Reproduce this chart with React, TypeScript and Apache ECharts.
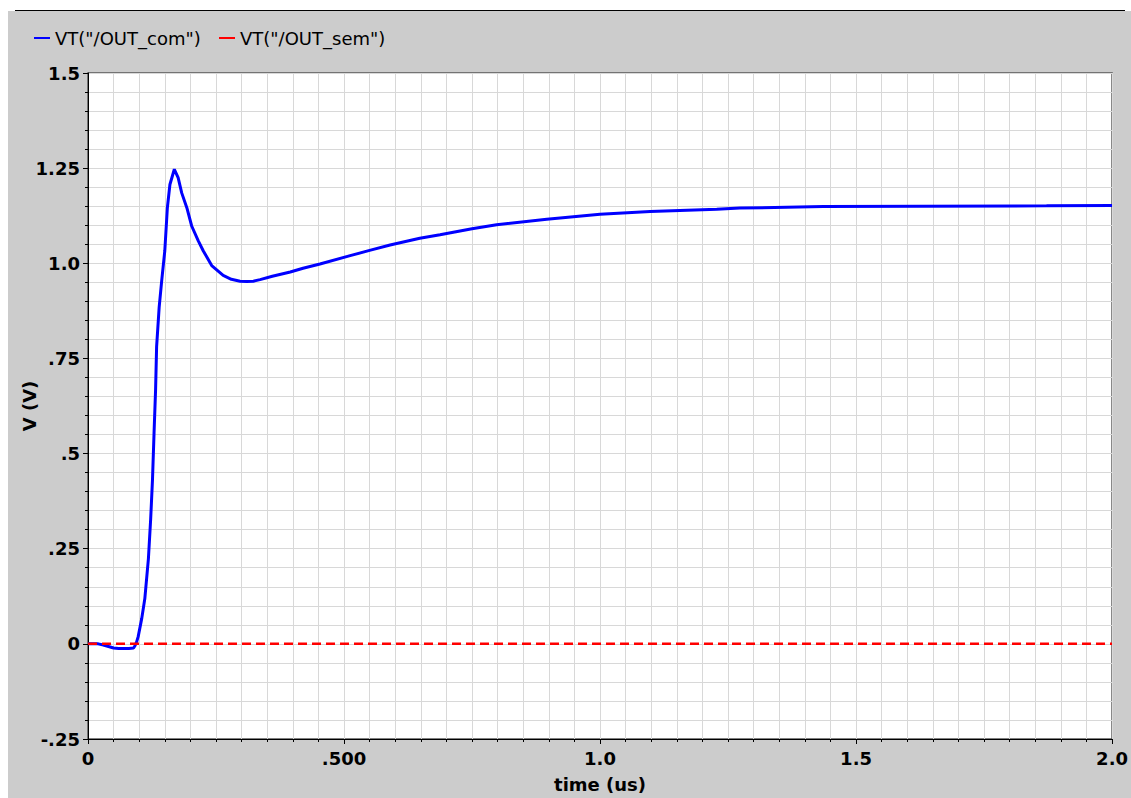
import React, { useEffect, useRef } from "react";
import * as echarts from "echarts";

const seriesNames = ['VT("/OUT_com")', 'VT("/OUT_sem")'];

// time (us)
const comTime = [
  0, 0.02, 0.03, 0.04, 0.05, 0.06, 0.07, 0.08, 0.089, 0.0918, 0.095, 0.098,
  0.105, 0.111, 0.118, 0.1224, 0.126, 0.129, 0.132, 0.134, 0.139, 0.144, 0.15,
  0.155, 0.16, 0.1686, 0.176, 0.183, 0.193, 0.2025, 0.2154, 0.225, 0.2416,
  0.264, 0.28, 0.297, 0.31, 0.323, 0.336, 0.36, 0.395, 0.42, 0.453, 0.512,
  0.55, 0.59, 0.648, 0.6875, 0.75, 0.798, 0.896, 1.0, 1.098, 1.228, 1.273,
  1.436, 1.872, 2.0,
];
// V (V)
const comValue = [
  0, 0, -0.003, -0.007, -0.011, -0.012, -0.012, -0.012, -0.011, -0.005, 0.005,
  0.019, 0.067, 0.119, 0.224, 0.328, 0.433, 0.554, 0.668, 0.781, 0.885, 0.955,
  1.033, 1.146, 1.207, 1.247, 1.225, 1.185, 1.146, 1.098, 1.059, 1.033, 0.994,
  0.968, 0.958, 0.953, 0.952, 0.953, 0.957, 0.966, 0.977, 0.987, 0.998, 1.02,
  1.034, 1.048, 1.066, 1.075, 1.091, 1.101, 1.116, 1.129, 1.136, 1.142, 1.145,
  1.149, 1.151, 1.152,
];

const semTime = [0, 2.0];
const semValue = [0, 0];

const xTickValues = [0, 0.5, 1.0, 1.5, 2.0];
const xTickLabels = ["0", ".500", "1.0", "1.5", "2.0"];
const yTickValues = [-0.25, 0, 0.25, 0.5, 0.75, 1.0, 1.25, 1.5];
const yTickLabels = ["-.25", "0", ".25", ".5", ".75", "1.0", "1.25", "1.5"];

const xAxisName = "time (us)";
const yAxisName = "V (V)";

function pickLabel(values: number[], labels: string[], v: number) {
  for (let i = 0; i < values.length; i++) {
    if (Math.abs(values[i] - v) < 1e-6) return labels[i];
  }
  return "";
}

const FONT = "DejaVu Sans";
const GRID_COLOR = "#d8d8d8";

export default function App() {
  const ref = useRef<HTMLDivElement>(null);

  useEffect(() => {
    if (!ref.current) return;
    const chart = echarts.init(ref.current, undefined, { renderer: "svg" });

    const legendCommon = {
      top: 24,
      icon: "rect",
      itemWidth: 16,
      itemHeight: 2,
      itemGap: 2,
      selectedMode: false,
      textStyle: {
        fontFamily: FONT,
        fontSize: 18,
        color: "#000",
      },
    };

    chart.setOption({
      animation: false,
      backgroundColor: "#ffffff",
      graphic: [
        {
          type: "rect",
          z: -10,
          silent: true,
          shape: { x: 8, y: 11, width: 1123, height: 787 },
          style: { fill: "#cccccc" },
        },
        {
          type: "line",
          z: -9,
          silent: true,
          shape: { x1: 15, y1: 10.5, x2: 1125, y2: 10.5 },
          style: { stroke: "#000000", lineWidth: 1 },
        },
      ],
      legend: [
        { ...legendCommon, left: 29, data: [seriesNames[0]] },
        { ...legendCommon, left: 214, data: [seriesNames[1]] },
      ],
      grid: {
        left: 88,
        top: 73,
        right: 18,
        bottom: 57,
        show: true,
        backgroundColor: "#ffffff",
        borderColor: "#555555",
        borderWidth: 1.5,
      },
      xAxis: {
        type: "value",
        min: 0,
        max: 2,
        interval: 0.5,
        name: xAxisName,
        nameLocation: "middle",
        nameGap: 36,
        nameTextStyle: { fontFamily: FONT, fontSize: 18, fontWeight: "bold", color: "#000" },
        axisLine: { show: true, onZero: false, lineStyle: { color: "#000", width: 1 } },
        axisTick: { show: true, length: 5, lineStyle: { color: "#000" } },
        minorTick: { show: true, splitNumber: 10, length: 3, lineStyle: { color: "#000" } },
        splitLine: { show: true, lineStyle: { color: GRID_COLOR, width: 1 } },
        minorSplitLine: { show: true, lineStyle: { color: GRID_COLOR, width: 1 } },
        axisLabel: {
          margin: 10,
          fontFamily: FONT,
          fontSize: 18,
          fontWeight: "bold",
          color: "#000",
          showMinLabel: true,
          showMaxLabel: true,
          formatter: (v: number) => pickLabel(xTickValues, xTickLabels, v),
        },
      },
      yAxis: {
        type: "value",
        min: -0.25,
        max: 1.5,
        interval: 0.25,
        name: yAxisName,
        nameLocation: "middle",
        nameGap: 50,
        nameMoveOverlap: false,
        nameRotate: 90,
        nameTextStyle: { fontFamily: FONT, fontSize: 18, fontWeight: "bold", color: "#000" },
        axisLine: { show: true, onZero: false, lineStyle: { color: "#000", width: 1 } },
        axisTick: { show: true, length: 5, lineStyle: { color: "#000" } },
        minorTick: { show: true, splitNumber: 5, length: 3, lineStyle: { color: "#000" } },
        splitLine: { show: true, lineStyle: { color: GRID_COLOR, width: 1 } },
        minorSplitLine: { show: true, lineStyle: { color: GRID_COLOR, width: 1 } },
        axisLabel: {
          margin: 8,
          fontFamily: FONT,
          fontSize: 18,
          fontWeight: "bold",
          color: "#000",
          showMinLabel: true,
          showMaxLabel: true,
          formatter: (v: number) => pickLabel(yTickValues, yTickLabels, v),
        },
      },
      series: [
        {
          name: seriesNames[0],
          type: "line",
          data: comTime.map((t, i) => [t, comValue[i]]),
          showSymbol: false,
          symbol: "none",
          color: "#0000ff",
          lineStyle: { color: "#0000ff", width: 3 },
          z: 2,
        },
        {
          name: seriesNames[1],
          type: "line",
          data: semTime.map((t, i) => [t, semValue[i]]),
          showSymbol: false,
          symbol: "none",
          color: "#ff0000",
          lineStyle: { color: "#ff0000", width: 2.5, type: [9, 5] },
          z: 3,
        },
      ],
    });

    return () => {
      chart.dispose();
    };
  }, []);

  return (
    <div
      ref={ref}
      style={{ position: "fixed", left: 0, top: 0, width: 1131, height: 798 }}
    />
  );
}
